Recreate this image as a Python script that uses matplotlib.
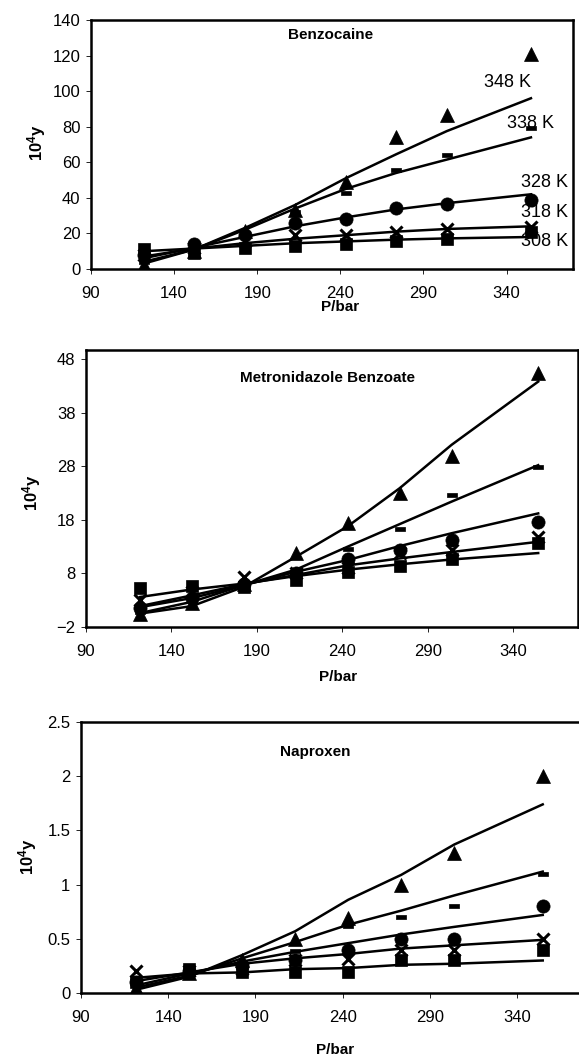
import matplotlib
matplotlib.use("Agg")
import matplotlib.pyplot as plt

plt.rcParams["font.family"] = ["Liberation Sans", "DejaVu Sans"]
plt.rcParams["mathtext.fontset"] = "custom"
plt.rcParams["mathtext.rm"] = "Liberation Sans"
plt.rcParams["mathtext.bf"] = "Liberation Sans:bold"

# pressures (bar)
P = [121.6, 152.0, 182.4, 212.8, 243.2, 273.6, 304.0, 354.7]
temps = ["348 K", "338 K", "328 K", "318 K", "308 K"]

# ---- Benzocaine (experimental / model), order 348, 338, 328, 318, 308 K
benzo_exp = [
    [2, 10, 21.6, 33, 49, 74, 86.5, 121],
    [4, 11, 20, 32, 43, 55.5, 64, 79],
    [8, 14, 19, 25.7, 28, 34.4, 36.3, 39],
    [8, 12, 16, 19, 19, 21, 22.6, 23.5],
    [11, 9, 12, 13, 14, 15.6, 16.7, 21],
]
benzo_fit = [
    [3, 11, 23, 36, 51, 64.5, 77.5, 96],
    [4, 11, 22, 34, 45, 54, 61.5, 74],
    [6, 12, 18, 24, 29, 33.5, 37, 42],
    [7, 11.5, 14.5, 17, 19, 21, 22.5, 24],
    [10, 11.5, 13, 14.5, 15.5, 16.5, 17.2, 18],
]

# ---- Metronidazole Benzoate
metro_exp = [
    [0.5, 2.5, 6, 11.8, 17.5, 23, 30, 45.4],
    [0.8, 2.8, 6, 8.5, 12.6, 16.2, 22.6, 27.9],
    [1.6, 3.5, 6, 8, 10.6, 12.3, 14.2, 17.6],
    [3, 4.5, 7.4, 8, 9, 11.8, 12.3, 14.8],
    [5.2, 5.6, 5.4, 6.7, 8.2, 9.3, 10.6, 13.7],
]
metro_fit = [
    [0.5, 1.9, 5.5, 11.1, 16.8, 23.9, 32, 43.8],
    [0.6, 2.7, 5.8, 8.7, 13, 17.2, 21.4, 28.2],
    [1.7, 3.4, 5.8, 8.3, 10.5, 13.1, 15.5, 19.2],
    [1.9, 3.9, 6, 7.7, 9.5, 10.8, 12, 13.9],
    [3.6, 5, 6.1, 7.5, 8.7, 9.7, 10.6, 11.8],
]

# ---- Naproxen
napro_exp = [
    [0.05, 0.18, 0.3, 0.5, 0.69, 1.0, 1.29, 2.0],
    [0.07, 0.18, 0.28, 0.39, 0.62, 0.70, 0.80, 1.10],
    [0.1, 0.2, 0.25, 0.3, 0.4, 0.5, 0.5, 0.8],
    [0.2, 0.2, 0.22, 0.3, 0.31, 0.4, 0.4, 0.5],
    [0.1, 0.22, 0.19, 0.19, 0.19, 0.3, 0.3, 0.4],
]
napro_fit = [
    [0.03, 0.15, 0.35, 0.57, 0.86, 1.09, 1.37, 1.74],
    [0.05, 0.16, 0.32, 0.47, 0.63, 0.76, 0.90, 1.12],
    [0.07, 0.18, 0.29, 0.38, 0.46, 0.54, 0.61, 0.72],
    [0.11, 0.19, 0.27, 0.32, 0.36, 0.41, 0.44, 0.49],
    [0.14, 0.18, 0.19, 0.22, 0.23, 0.26, 0.27, 0.30],
]

dash = [(-1, -0.42), (1, -0.42), (1, 0.42), (-1, 0.42), (-1, -0.42)]
markers = [("^", 10), (dash, 6.5), ("o", 9.5), ("x", 8), ("s", 9)]

W, H = 579, 1057


def px_axes(left, right, top, bottom):
    return fig.add_axes([left / W, 1 - bottom / H, (right - left) / W, (bottom - top) / H])


def draw(ax, exp, fit, xmax, ylim, yticks, title, title_px, box):
    for i in range(5):
        ax.plot(P, fit[i], color="black", lw=1.8, zorder=2)
    for i in range(5):
        m, ms = markers[i]
        ax.plot(P, exp[i], linestyle="none", marker=m, ms=ms, color="black",
                mew=2.2 if m == "x" else 0.5, zorder=3)
    ax.set_xlim(90, xmax)
    ax.set_ylim(*ylim)
    ax.set_xticks([90, 140, 190, 240, 290, 340])
    ax.set_yticks(yticks)
    for s in ax.spines.values():
        s.set_linewidth(1.8)
    ax.tick_params(direction="out", length=3.6, width=0.6, labelsize=12)
    ax.tick_params(axis="x", pad=9)
    ax.tick_params(axis="y", pad=4)
    left, right, top, bottom = box
    ax.text((title_px[0] - left) / (right - left), 1 - (title_px[1] - top) / (bottom - top),
            title, transform=ax.transAxes, ha="center", va="center",
            fontsize=11, fontweight="bold")


fig = plt.figure(figsize=(W / 100, H / 100), dpi=100)

box1 = (91, 573, 20, 269)
ax1 = px_axes(*box1)
draw(ax1, benzo_exp, benzo_fit, 380, (0, 140), range(0, 141, 20),
     "Benzocaine", (331, 35), box1)
label_pos = [(340.7, 104.6), (354.6, 82), (363, 48.9), (363, 32), (363, 15.2)]
for t, (x, y) in zip(temps, label_pos):
    ax1.text(x, y, t, ha="center", va="center", fontsize=13)

box2 = (86, 578, 350, 627)
ax2 = px_axes(*box2)
draw(ax2, metro_exp, metro_fit, 378, (-2, 49.7), [-2, 8, 18, 28, 38, 48],
     "Metronidazole Benzoate", (327, 378), box2)

box3 = (81, 620, 722, 993)
ax3 = px_axes(*box3)
draw(ax3, napro_exp, napro_fit, 399, (0, 2.5), [0, 0.5, 1, 1.5, 2, 2.5],
     "Naproxen", (315, 752), box3)
ax3.set_yticklabels(["0", "0.5", "1", "1.5", "2", "2.5"])

for (x, y) in [(340, 307), (338, 677), (335, 1050)]:
    fig.text(x / W, 1 - y / H, "P/bar", ha="center", va="center",
             fontsize=11, fontweight="bold")
for (x, y) in [(37, 143), (32, 493), (28, 857)]:
    fig.text(x / W, 1 - y / H, r"$\mathbf{10^4y}$", ha="center", va="center",
             rotation=90, fontsize=12)

fig.savefig("out.png", dpi=100)
